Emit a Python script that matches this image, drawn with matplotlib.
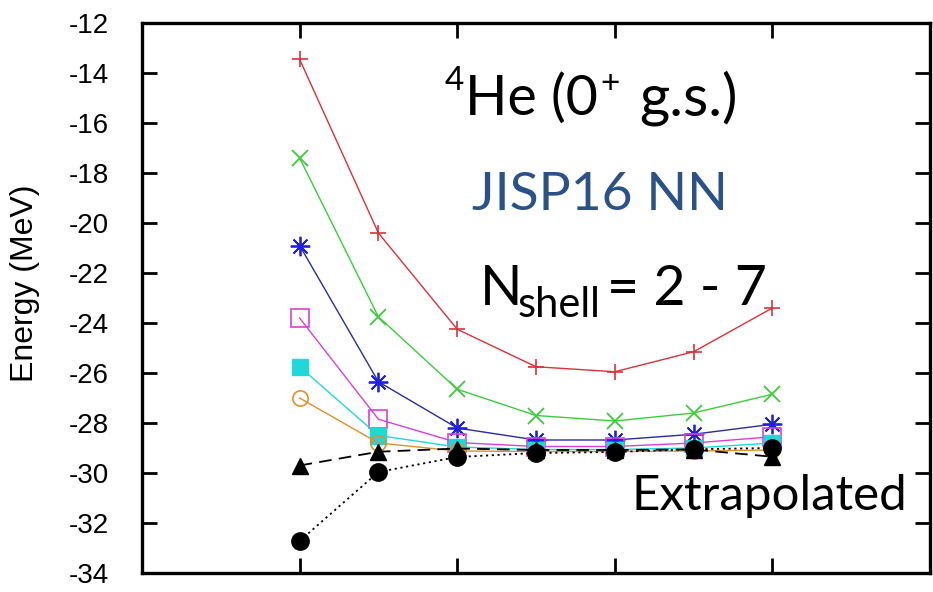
import matplotlib
matplotlib.use("Agg")
import matplotlib.pyplot as plt

# hbar*omega grid and ground-state energies (MeV) for each Nshell
hw = [10, 15, 20, 25, 30, 35, 40]
e_n2 = [-13.45, -20.4, -24.25, -25.75, -25.95, -25.15, -23.4]
e_n3 = [-17.4, -23.75, -26.65, -27.7, -27.92, -27.6, -26.85]
e_n4 = [-20.9, -26.35, -28.2, -28.68, -28.68, -28.45, -28.05]
e_n5 = [-23.8, -27.85, -28.78, -28.94, -28.94, -28.8, -28.55]
e_n6 = [-25.75, -28.5, -28.96, -29.06, -29.06, -29.0, -28.8]
e_n7 = [-27.0, -28.8, -29.12, -29.14, -29.14, -29.12, -29.08]
e_ext_a = [-29.7, -29.15, -29.02, -29.08, -29.08, -29.06, -29.35]
e_ext_b = [-32.72, -29.96, -29.36, -29.2, -29.16, -29.05, -29.0]

plt.rcParams['font.family'] = ['Lato', 'DejaVu Sans']

W, H = 933, 592
fig = plt.figure(figsize=(W/100, H/100), dpi=100)
ax = fig.add_axes([142/W, 1-573/H, (930-142)/W, (573-23)/H])

lw = 1.0
ax.plot(hw, e_n2, color='#d9323a', lw=lw, marker='+', ms=12, mew=1.2)
ax.plot(hw, e_n3, color='#3ccc3c', lw=lw, marker='x', ms=12, mew=1.3)
ax.plot(hw, e_n4, color='#2b2b9e', lw=lw, marker=(8, 2, 0), ms=14, mew=1.3,
        mec='#2020e0')
ax.plot(hw, e_n5, color='#d93fd9', lw=lw, marker='s', ms=13, mew=1.2, mfc='none')
ax.plot(hw, e_n6, color='#1fd8d8', lw=lw, marker='s', ms=11)
ax.plot(hw, e_n7, color='#e0902a', lw=lw, marker='o', ms=11, mew=1.2, mfc='none')
ax.plot(hw, e_ext_a, color='black', lw=1.3, ls=(0, (7, 4)), marker='^', ms=12)
ax.plot(hw, e_ext_b, color='black', lw=1.3, ls=(0, (1.2, 2)), marker='o', ms=12.5)

ax.set_xlim(0, 50)
ax.set_ylim(-34, -12)
ax.set_xticks([10, 20, 30, 40])
ax.set_xticklabels([])
ax.set_yticks(range(-34, -11, 2))
ax.set_yticklabels([str(v) for v in range(-34, -11, 2)], family='Liberation Sans')
ax.tick_params(direction='in', length=11, width=2, top=True, right=True,
               labelsize=20, pad=24)
for s in ax.spines.values():
    s.set_linewidth(2.4)

fig.text(25/W, 1-283/H, 'Energy (MeV)', rotation=90, ha='center', va='center',
         fontsize=23, family='Liberation Sans')


def label(x, y, s, size, **kw):
    # place text by pixel position of its baseline-left corner
    fig.text(x/W, 1-y/H, s, fontsize=size, ha='left', va='baseline', **kw)


label(445, 90, '4', 24)
label(465, 115, 'He (0', 40)
label(600, 93, '+', 24)
label(639, 115, 'g.s.)', 42)
label(472, 210, 'JISP16 NN', 38.5, color='#2a5188')
label(480, 305, 'N', 40)
label(518, 317, 'shell', 30)
label(607, 305, '= 2 - 7', 40)
label(632, 510, 'Extrapolated', 35.5)

fig.savefig('out.png', dpi=100)
